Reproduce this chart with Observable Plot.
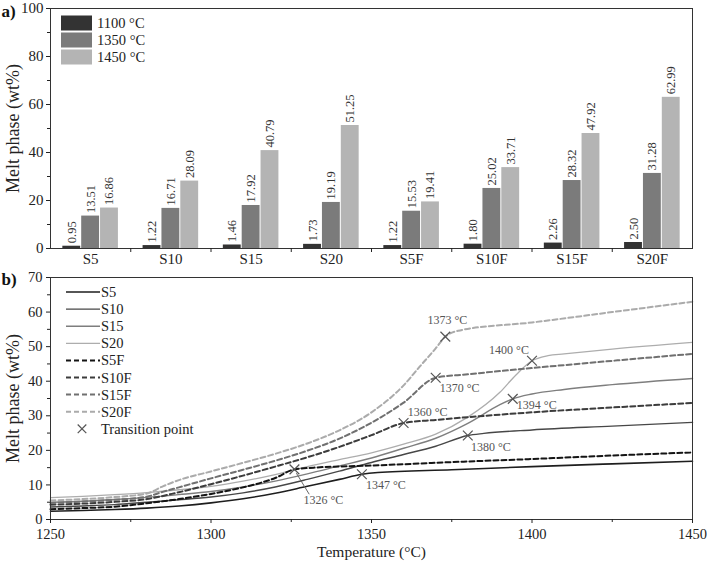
<!DOCTYPE html>
<html><head><meta charset="utf-8">
<script src="https://cdn.jsdelivr.net/npm/d3@7"></script>
<script src="https://cdn.jsdelivr.net/npm/@observablehq/plot@0.6"></script>
<style>
body{margin:0;background:#fff}
#chart svg{display:block;overflow:visible}
</style>
</head><body><div id="chart"></div>
<script>
// ---------- data: panel a ----------
const samples = ["S5","S10","S15","S20","S5F","S10F","S15F","S20F"];
const temps = ["1100 °C","1350 °C","1450 °C"];
const melt1100 = [0.95,1.22,1.46,1.73,1.22,1.80,2.26,2.50];
const melt1350 = [13.51,16.71,17.92,19.19,15.53,25.02,28.32,31.28];
const melt1450 = [16.86,28.09,40.79,51.25,19.41,33.71,47.92,62.99];
const yTicksA = [0,20,40,60,80,100];

// ---------- data: panel b (temperature °C, melt wt%) ----------
const S5  = [[1250,2.4],[1260,2.6],[1270,2.9],[1280,3.3],[1290,3.9],[1300,4.8],[1310,6.0],[1320,7.6],[1330,9.6],[1340,11.6],[1347,13.1],[1352,13.6],[1375,14.4],[1400,15.3],[1425,16.1],[1450,16.86]];
const S10 = [[1250,3.6],[1260,3.9],[1270,4.3],[1280,5.0],[1290,5.7],[1300,6.5],[1310,7.7],[1320,9.4],[1330,11.6],[1340,14.0],[1350,16.5],[1360,18.8],[1370,21.2],[1380,24.3],[1385,24.9],[1400,25.9],[1425,27.0],[1450,28.09]];
const S15 = [[1250,5.0],[1260,5.3],[1270,5.8],[1280,6.4],[1290,7.2],[1300,8.1],[1310,9.4],[1320,11.1],[1330,13.2],[1340,15.5],[1350,17.8],[1360,20.6],[1370,23.5],[1380,27.8],[1390,33.2],[1394,34.9],[1400,36.3],[1410,37.6],[1425,39.0],[1450,40.79]];
const S20 = [[1250,6.3],[1260,6.7],[1270,7.2],[1280,7.8],[1290,8.6],[1300,9.6],[1310,11.1],[1320,13.0],[1330,15.3],[1340,17.3],[1350,19.3],[1360,21.8],[1370,24.7],[1380,29.6],[1390,36.8],[1395,41.8],[1400,45.9],[1405,47.4],[1410,47.9],[1425,49.3],[1450,51.25]];
const S5F = [[1250,3.0],[1260,3.3],[1270,3.7],[1280,4.7],[1290,5.9],[1300,7.4],[1310,9.3],[1320,12.0],[1326,14.5],[1332,15.0],[1350,15.6],[1375,16.6],[1400,17.5],[1425,18.5],[1450,19.41]];
const S10F = [[1250,4.3],[1260,4.6],[1270,5.1],[1280,5.9],[1290,7.9],[1300,10.2],[1310,12.7],[1320,15.3],[1330,18.0],[1340,21.0],[1350,24.4],[1360,27.9],[1370,28.8],[1380,29.6],[1400,31.0],[1425,32.4],[1450,33.71]];
const S15F = [[1250,4.8],[1260,5.2],[1270,5.7],[1280,6.6],[1285,8.0],[1290,9.3],[1300,11.9],[1310,14.4],[1320,17.0],[1330,19.9],[1340,23.4],[1350,28.0],[1360,33.8],[1370,41.0],[1380,42.0],[1400,43.8],[1425,45.9],[1450,47.92]];
const S20F = [[1250,5.5],[1260,5.9],[1270,6.5],[1280,7.5],[1285,9.6],[1290,11.4],[1300,13.9],[1310,16.4],[1320,19.0],[1330,22.0],[1340,25.8],[1350,31.0],[1360,38.8],[1365,44.2],[1370,49.5],[1373,52.9],[1377,54.6],[1400,57.0],[1425,60.0],[1450,62.99]];
const seriesNames = ["S5","S10","S15","S20","S5F","S10F","S15F","S20F"];
const seriesData = [S5,S10,S15,S20,S5F,S10F,S15F,S20F];
const transT = [1347,1380,1394,1400,1326,1360,1370,1373];
const transV = [13.1,24.3,34.9,45.9,14.5,27.9,41.0,52.9];
const transLabels = ["1347 °C","1380 °C","1394 °C","1400 °C","1326 °C","1360 °C","1370 °C","1373 °C"];
const xTicksB = [1250,1300,1350,1400,1450];
const yTicksB = [0,10,20,30,40,50,60,70];

// ---------- styles ----------
const font = "'Liberation Serif','Times New Roman',serif";
const barColors = ["#333333","#7b7b7b","#b4b4b4"];
const lineStyle = [
  {stroke:"#1e1e1e", w:1.6, dash:null},
  {stroke:"#474747", w:1.4, dash:null},
  {stroke:"#7e7e7e", w:1.4, dash:null},
  {stroke:"#adadad", w:1.3, dash:null},
  {stroke:"#141414", w:2.0, dash:"5,3"},
  {stroke:"#3c3c3c", w:2.0, dash:"5,3"},
  {stroke:"#707070", w:2.0, dash:"5,3"},
  {stroke:"#ababab", w:2.0, dash:"5,3"}
];
const labelOffsets = [[24,11],[23,12],[24,6],[-23,-11],[29,31],[24,-11],[24,10],[2,-16]];

// ---------- panel a ----------
const groupPad = 0.1475, barW = 0.235;
const barData = samples.flatMap((s,i)=>[melt1100,melt1350,melt1450].map((arr,j)=>({i,j,s,t:temps[j],v:arr[i]})));

const legendA = (index, scales, values, dims) => {
  const g = d3.create("svg:g").attr("font-family", font).attr("text-anchor","start");
  temps.forEach((t,k)=>{
    const y = 23 + k*17;
    g.append("rect").attr("x", dims.marginLeft+11).attr("y", y-7.5).attr("width",31).attr("height",15).attr("fill", barColors[k]);
    g.append("text").attr("x", dims.marginLeft+47).attr("y", y).attr("dy","0.35em").attr("font-size",14.5).attr("fill","#222").text(t);
  });
  return g.node();
};

const plotA = Plot.plot({
  width:707, height:273, marginTop:8, marginBottom:25, marginLeft:50, marginRight:15,
  style:{fontFamily:font, fontSize:"15px", color:"#222", background:"#fff"},
  x:{domain:[0,8], axis:null},
  y:{domain:[0,100], axis:null},
  color:{domain:temps, range:barColors},
  marks:[
    Plot.rect(barData,{x1:d=>d.i+groupPad+d.j*barW, x2:d=>d.i+groupPad+(d.j+1)*barW, y1:0, y2:"v", fill:"t", insetLeft:0.5, insetRight:0.5}),
    Plot.text(barData,{x:d=>d.i+groupPad+(d.j+0.5)*barW, y:"v", text:d=>d.v.toFixed(2), rotate:-90, textAnchor:"start", dy:-3, fontSize:12.5, fill:"#333"}),
    Plot.frame({stroke:"#333", strokeWidth:1}),
    Plot.axisY({ticks:yTicksA, tickSize:4, tickPadding:3, label:null, fontSize:15}),
    Plot.axisY({ticks:[10,30,50,70,90], tickSize:3, tickFormat:()=>"", label:null}),
    Plot.axisX({ticks:[1,2,3,4,5,6,7], tickSize:4, tickFormat:()=>"", label:null}),
    Plot.axisX({ticks:samples.map((_,i)=>i+0.5), tickSize:0, tickPadding:5, tickFormat:d=>samples[Math.floor(d)], label:null, fontSize:15}),
    Plot.text(["Melt phase (wt%)"],{frameAnchor:"left", textAnchor:"middle", lineAnchor:"middle", rotate:-90, dx:-37, fontSize:18, fill:"#222"}),
    Plot.text(["a)"],{frameAnchor:"top-left", dx:-49, dy:-4, textAnchor:"start", fontSize:17, fontWeight:"bold", fill:"#111"}),
    legendA
  ]
});

// ---------- panel b ----------
const lineData = seriesData.flatMap((arr,k)=>arr.map(([t,v])=>({k, name:seriesNames[k], t, v})));
const trans = transT.map((t,i)=>({t, v:transV[i], label:transLabels[i], off:labelOffsets[i]}));

const legendB = (index, scales, values, dims) => {
  const g = d3.create("svg:g").attr("font-family", font).attr("text-anchor","start");
  const x0 = dims.marginLeft;
  seriesNames.forEach((n,k)=>{
    const y = dims.marginTop + 15 + k*17.1;
    const st = lineStyle[k];
    g.append("line").attr("x1", x0+16).attr("x2", x0+50).attr("y1", y).attr("y2", y)
      .attr("stroke", st.stroke).attr("stroke-width", st.w).attr("stroke-dasharray", st.dash);
    g.append("text").attr("x", x0+51).attr("y", y).attr("dy","0.35em").attr("font-size",14.5).attr("fill","#222").text(n);
  });
  const ym = dims.marginTop + 15 + 8*17.1;
  g.append("path").attr("d", d3.symbol(d3.symbolTimes, 50)()).attr("transform", `translate(${x0+32},${ym})`)
    .attr("fill","none").attr("stroke","#555").attr("stroke-width",1.2);
  g.append("text").attr("x", x0+51).attr("y", ym).attr("dy","0.35em").attr("font-size",14.5).attr("fill","#222").text("Transition point");
  return g.node();
};

const plotB = Plot.plot({
  width:707, height:292, marginTop:4, marginBottom:46, marginLeft:50, marginRight:15,
  style:{fontFamily:font, fontSize:"15px", color:"#222", background:"#fff"},
  x:{domain:[1250,1450], axis:null},
  y:{domain:[0,70], axis:null},
  marks:[
    ...seriesNames.map((n,k)=>Plot.line(lineData.filter(d=>d.k===k),{x:"t", y:"v", curve:"monotone-x", stroke:lineStyle[k].stroke, strokeWidth:lineStyle[k].w, strokeDasharray:lineStyle[k].dash})),
    Plot.link([{x1:1326.6, y1:13.4, x2:1330.6, y2:7.3}],{x1:"x1", y1:"y1", x2:"x2", y2:"y2", stroke:"#666", strokeWidth:1}),
    Plot.dot(trans,{x:"t", y:"v", symbol:"times", r:4.5, stroke:"#555", strokeWidth:1.2}),
    ...trans.map(d=>Plot.text([d],{x:"t", y:"v", text:"label", dx:d.off[0], dy:d.off[1], fontSize:12, fill:"#555"})),
    Plot.frame({stroke:"#333", strokeWidth:1}),
    Plot.axisY({ticks:yTicksB, tickSize:4, tickPadding:4, label:null, fontSize:14.5}),
    Plot.axisY({ticks:[5,15,25,35,45,55,65], tickSize:3, tickFormat:()=>"", label:null}),
    Plot.axisX({ticks:xTicksB, tickSize:4, tickPadding:5, label:null, fontSize:14.5, tickFormat:d=>String(d)}),
    Plot.axisX({ticks:[1275,1325,1375,1425], tickSize:3, tickFormat:()=>"", label:null}),
    Plot.text(["Temperature (°C)"],{frameAnchor:"bottom", textAnchor:"middle", dy:37, fontSize:15.5, fill:"#222"}),
    Plot.text(["Melt phase (wt%)"],{frameAnchor:"left", textAnchor:"middle", lineAnchor:"middle", rotate:-90, dx:-37, fontSize:18, fill:"#222"}),
    Plot.text(["b)"],{frameAnchor:"top-left", dx:-49, dy:-5, textAnchor:"start", fontSize:17, fontWeight:"bold", fill:"#111"}),
    legendB
  ]
});

document.getElementById("chart").append(plotA, plotB);
</script>
</body></html>
